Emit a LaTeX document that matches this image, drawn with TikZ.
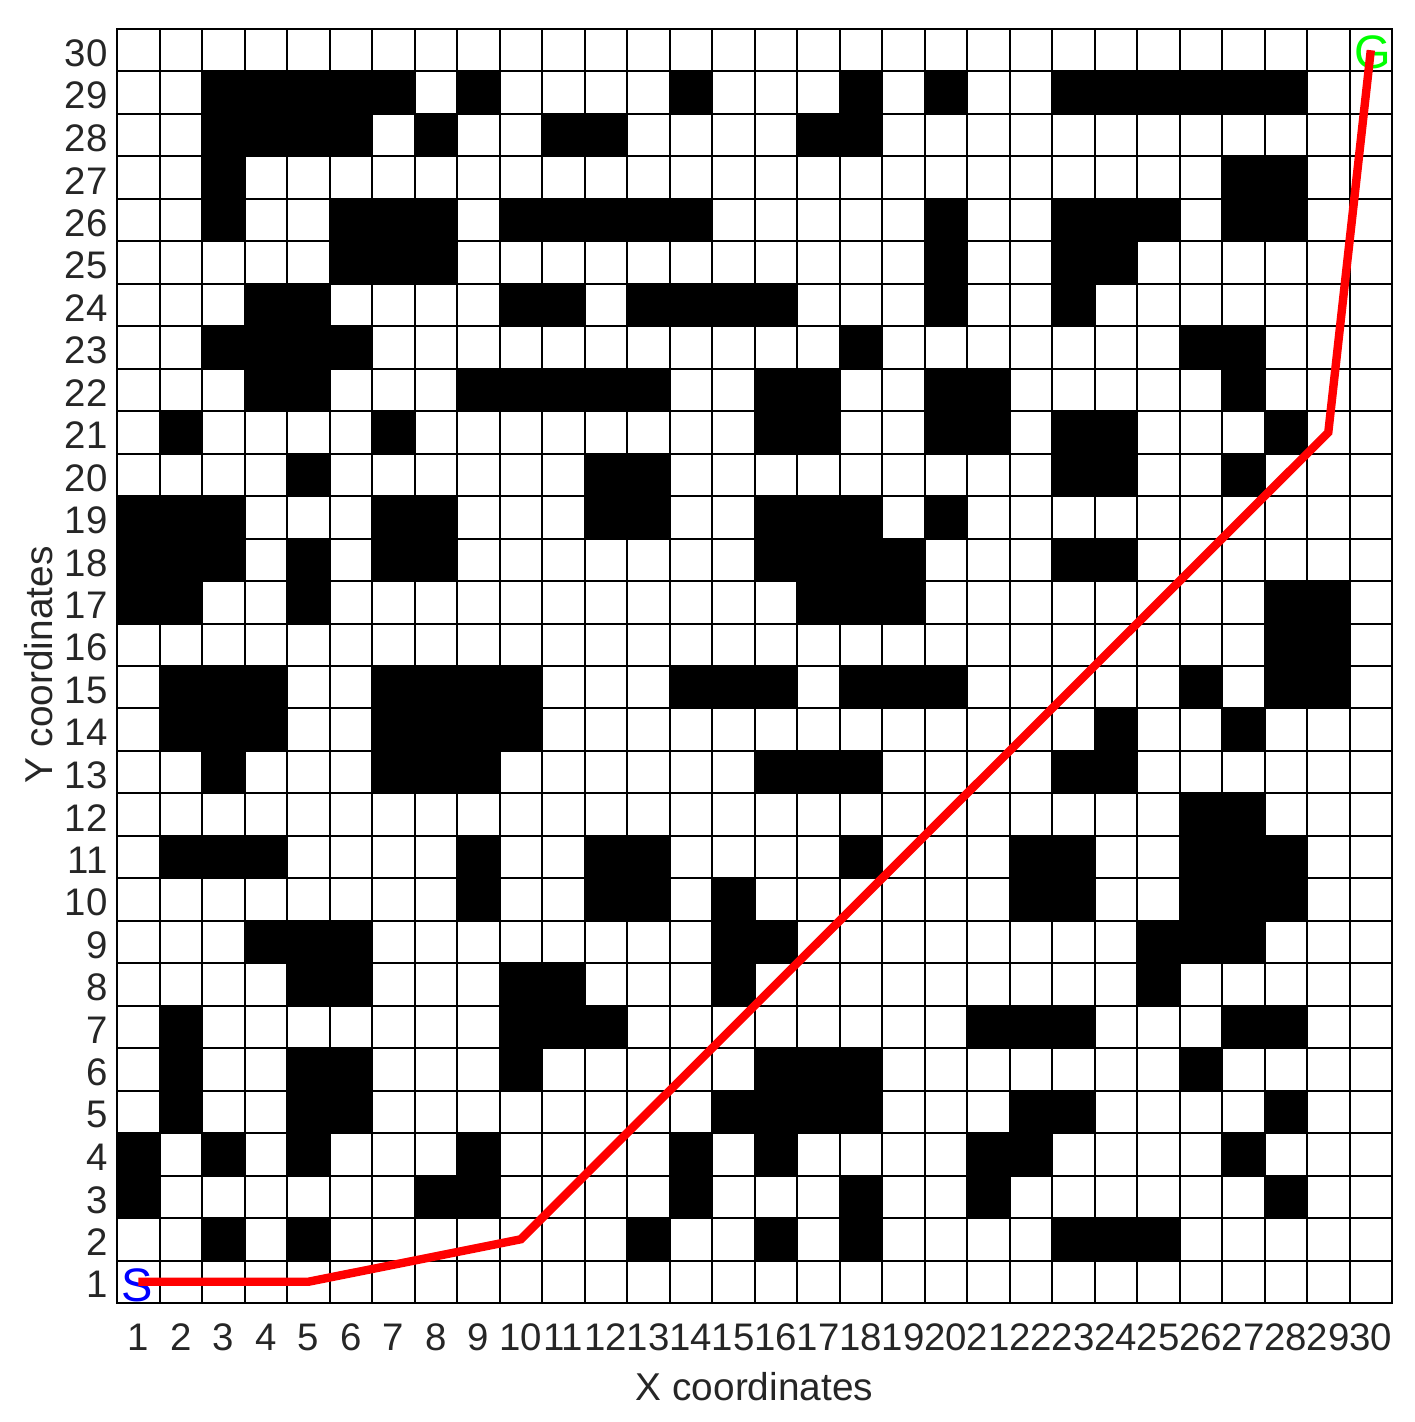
\documentclass[tikz,border=0pt]{standalone}
\usepackage{fontspec}
\setmainfont{Liberation Sans}
\definecolor{ticklbl}{HTML}{262626}
\definecolor{pathred}{RGB}{255,0,0}
\definecolor{startblue}{RGB}{0,0,255}
\definecolor{goalgreen}{RGB}{0,255,0}
\begin{document}
\begin{tikzpicture}[x=21.25pt,y=21.233pt,
  ticktext/.style={text=ticklbl,inner sep=0pt,font=\fontsize{19.2}{23}\selectfont},
  axistext/.style={text=ticklbl,inner sep=0pt,font=\fontsize{19.4}{23}\selectfont},
  endtext/.style={inner sep=0pt,font=\fontsize{23.5}{28}\selectfont},
  gridline/.style={draw=black,line width=1pt,line cap=rect},
  routeline/.style={draw=pathred,line width=4.2pt,line join=miter}]
\useasboundingbox (-2.753,-2.802) rectangle (30.518,30.683);
\fill[white] (-2.753,-2.802) rectangle (30.518,30.683);
% obstacles: row / list of columns
\foreach \r/\cols in {
 29/{3,4,5,6,7,9,14,18,20,23,24,25,26,27,28},
 28/{3,4,5,6,8,11,12,17,18},
 27/{3,27,28},
 26/{3,6,7,8,10,11,12,13,14,20,23,24,25,27,28},
 25/{6,7,8,20,23,24},
 24/{4,5,10,11,13,14,15,16,20,23},
 23/{3,4,5,6,18,26,27},
 22/{4,5,9,10,11,12,13,16,17,20,21,27},
 21/{2,7,16,17,20,21,23,24,28},
 20/{5,12,13,23,24,27},
 19/{1,2,3,7,8,12,13,16,17,18,20},
 18/{1,2,3,5,7,8,16,17,18,19,23,24},
 17/{1,2,5,17,18,19,28,29},
 16/{28,29},
 15/{2,3,4,7,8,9,10,14,15,16,18,19,20,26,28,29},
 14/{2,3,4,7,8,9,10,24,27},
 13/{3,7,8,9,16,17,18,23,24},
 12/{26,27},
 11/{2,3,4,9,12,13,18,22,23,26,27,28},
 10/{9,12,13,15,22,23,26,27,28},
 9/{4,5,6,15,16,25,26,27},
 8/{5,6,10,11,15,25},
 7/{2,10,11,12,21,22,23,27,28},
 6/{2,5,6,10,16,17,18,26},
 5/{2,5,6,15,16,17,18,22,23,28},
 4/{1,3,5,9,14,16,21,22,27},
 3/{1,8,9,14,18,21,28},
 2/{3,5,13,16,18,23,24,25}}{
  \foreach \c in \cols {
    \fill[black] ({\c-1},{\r-1}) rectangle (\c,\r);
  }
}
% grid lines
\foreach \k in {0,...,30} {
  \draw[gridline] (\k,0) -- (\k,30);
  \draw[gridline] (0,\k) -- (30,\k);
}
% tick labels
\foreach \i in {1,...,30} {
  \node[ticktext,anchor=center] (xt\i) at ({\i-0.5},-0.81) {\i};
  \node[ticktext,anchor=east] (yt\i) at (-0.21,{\i-0.57}) {\i};
}
\node[axistext,anchor=base] (xlab) at (15.0,-2.284) {X coordinates};
\node[axistext,anchor=base,rotate=90] (ylab) at (-1.506,15.02) {Y coordinates};
% start / goal
\node[endtext,text=startblue] (S) at (0.47,0.42) {S};
\node[endtext,text=goalgreen] (G) at (29.55,29.46) {G};
% route
\coordinate (p1) at (0.5,0.5);
\coordinate (p2) at (4.5,0.5);
\coordinate (p3) at (9.5,1.5);
\coordinate (p4) at (28.5,20.5);
\coordinate (p5) at (29.5,29.5);
\draw[routeline] (p1) -- (p2) -- (p3) -- (p4) -- (p5);
\end{tikzpicture}
\end{document}
